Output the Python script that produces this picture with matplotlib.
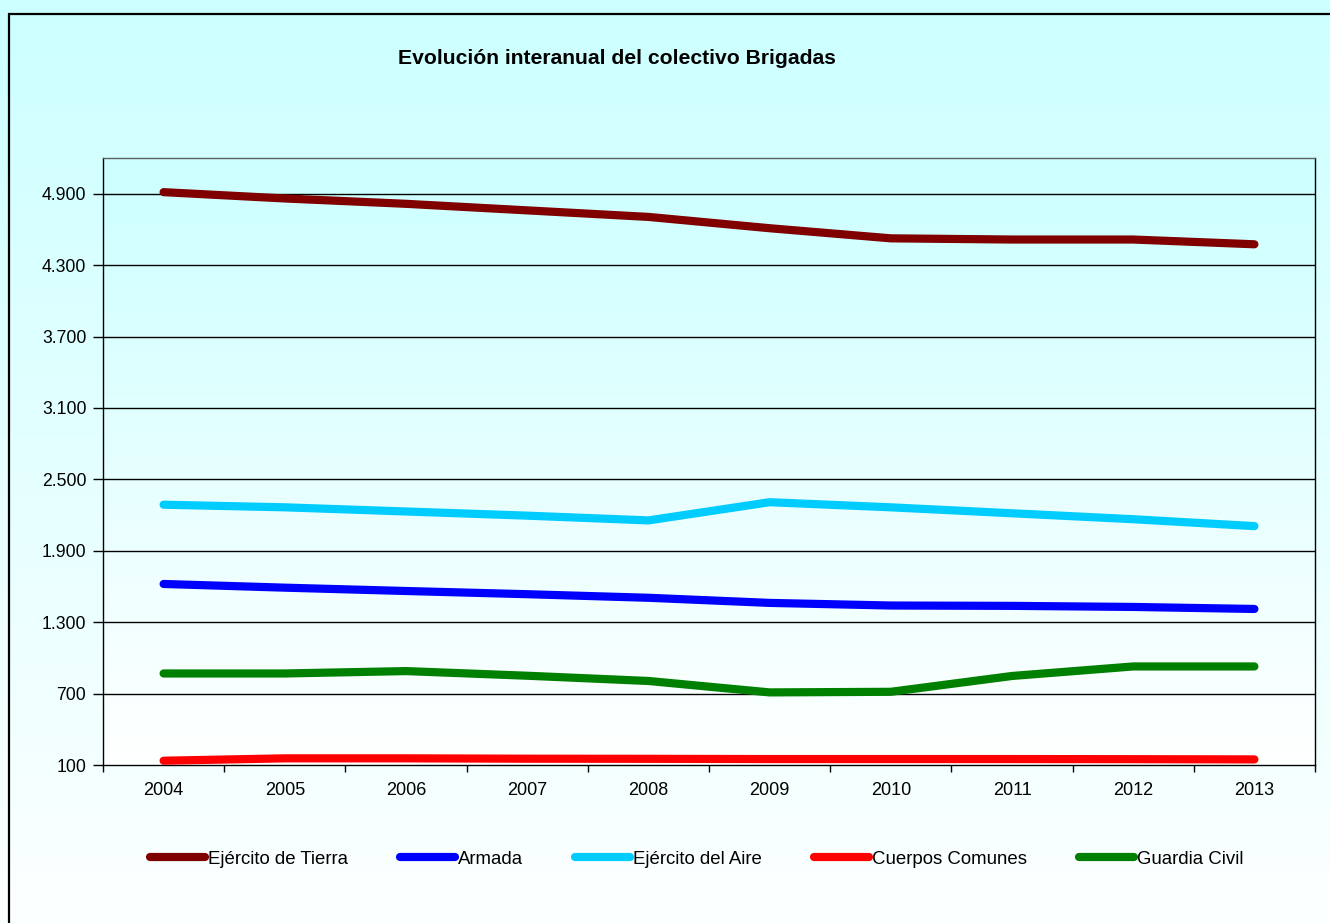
import matplotlib
matplotlib.use("Agg")
import matplotlib.pyplot as plt
import numpy as np
from matplotlib.ticker import FixedLocator, FuncFormatter
from matplotlib.colors import LinearSegmentedColormap
from matplotlib.patches import Rectangle

plt.rcParams['font.family'] = ['Liberation Sans', 'DejaVu Sans']

years = ['2004', '2005', '2006', '2007', '2008', '2009', '2010', '2011', '2012', '2013']
tierra = [4913, 4860, 4815, 4760, 4705, 4610, 4525, 4515, 4515, 4475]
armada = [1621, 1590, 1562, 1535, 1505, 1462, 1440, 1437, 1428, 1411]
aire = [2287, 2265, 2230, 2195, 2155, 2308, 2265, 2215, 2165, 2107]
comunes = [136, 156, 156, 153, 152, 150, 150, 150, 149, 147]
guardia = [869, 869, 889, 850, 806, 710, 715, 848, 928, 928]

series_names = ['Ejército de Tierra', 'Armada', 'Ejército del Aire', 'Cuerpos Comunes', 'Guardia Civil']
series_vals = [tierra, armada, aire, comunes, guardia]
series_colors = ['#800000', '#0000FF', '#00CCFF', '#FF0000', '#008000']
yticks = [100, 700, 1300, 1900, 2500, 3100, 3700, 4300, 4900]

W, H = 1330, 923
fig = plt.figure(figsize=(W / 100, H / 100), dpi=100)

cmap = LinearSegmentedColormap.from_list('bg', ['#CCFFFF', '#FFFFFF'])
grad = np.linspace(0, 1, 256).reshape(-1, 1)

# fondo degradado de la figura
bg = fig.add_axes([0, 0, 1, 1], zorder=-10)
bg.imshow(grad, aspect='auto', cmap=cmap, extent=[0, 1, 0, 1], vmin=0, vmax=1.05)
bg.set_xlim(0, 1)
bg.set_ylim(0, 1)
bg.axis('off')
bg.add_patch(Rectangle((8.5 / W, -0.1), 1.2, 1.1 - 14.5 / H, transform=bg.transAxes,
                       fill=False, edgecolor='black', linewidth=1.6))

ax = fig.add_axes([103 / W, 1 - 765 / H, (1315 - 103) / W, (765 - 158) / H])
x = np.arange(len(years))
ax.set_xlim(-0.5, len(years) - 0.5)
ax.set_ylim(100, 5200)
ax.imshow(grad, aspect='auto', cmap=cmap, extent=[-0.5, len(years) - 0.5, 100, 5200],
          vmin=0, vmax=1.0, zorder=0)

for v in yticks[1:]:
    ax.axhline(v, color='black', linewidth=1.0, zorder=1)

for name, vals, col in zip(series_names, series_vals, series_colors):
    ax.plot(x, vals, color=col, linewidth=5.9, solid_capstyle='round',
            solid_joinstyle='round', label=name, zorder=3)

ax.yaxis.set_major_locator(FixedLocator(yticks))
ax.yaxis.set_major_formatter(FuncFormatter(lambda v, p: f"{int(v):,}".replace(',', '.')))
ax.set_xticks(x)
ax.set_xticklabels(years)
ax.set_xticks(np.arange(-0.5, len(years), 1), minor=True)
ax.tick_params(axis='x', which='major', length=0, pad=12, labelsize=13)
ax.tick_params(axis='x', which='minor', length=5, width=1, direction='out')
ax.tick_params(axis='y', which='major', length=7, width=1, direction='out', pad=5, labelsize=12.7)

for s in ['left', 'bottom', 'right']:
    ax.spines[s].set_color('black')
    ax.spines[s].set_linewidth(1.0)
ax.spines['top'].set_color('#606060')
ax.spines['top'].set_linewidth(1.0)

fig.text(617 / W, 1 - 59 / H, 'Evolución interanual del colectivo Brigadas',
         ha='center', va='center', fontsize=15.2, fontweight='bold')

leg = fig.legend(loc='center', bbox_to_anchor=(697 / W, 1 - 859 / H), ncol=5, frameon=False,
                 fontsize=13.4, handlelength=2.95, handletextpad=0.16, columnspacing=2.8)

fig.savefig('out.png', dpi=100)
